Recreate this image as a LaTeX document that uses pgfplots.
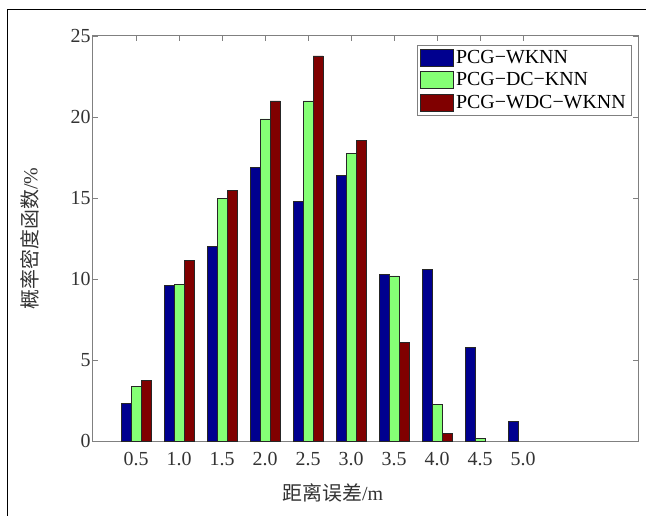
\documentclass[border=0pt]{standalone}
\usepackage{pgfplots}
\pgfplotsset{compat=1.18}
\usepackage{fontspec}
\setmainfont{Liberation Serif}
\newfontfamily\cjk{Noto Sans CJK SC}

\definecolor{cblue}{HTML}{00008F}
\definecolor{cgreen}{HTML}{85FF75}
\definecolor{cred}{HTML}{800000}
\definecolor{axgray}{HTML}{808080}

\begin{document}
\begin{tikzpicture}
\useasboundingbox (-93bp,-75bp) rectangle (553bp,441bp);
\draw[black, line width=1bp] (-85bp,-75bp) -- (-85bp,431bp) -- (553bp,431bp);
\begin{axis}[
    at={(0,0)}, anchor=south west,
    scale only axis,
    width=545bp,
    height=405bp,
    ybar=0pt,
    bar width=10bp,
    xmin=0, xmax=12.67,
    ymin=0, ymax=25,
    xtick={1,...,10},
    xticklabels={0.5,1.0,1.5,2.0,2.5,3.0,3.5,4.0,4.5,5.0},
    ytick={0,5,10,15,20,25},
    xtick pos=right,
    xticklabel pos=left,
    ytick pos=both,
    yticklabel pos=left,
    tick align=inside,
    major tick length=5bp,
    axis line style={axgray, line width=1bp},
    tick style={axgray, line width=0.8bp},
    ticklabel style={font=\fontsize{20}{23}\selectfont, text=black!80},
    xticklabel style={yshift=-8bp},
    yticklabel style={xshift=1bp},
    /pgf/number format/assume math mode=true,
    xlabel={{\cjk 距离误差}/m},
    ylabel={{\cjk 概率密度函数}/\%},
    label style={font=\fontsize{20}{23}\selectfont, text=black!80},
    xlabel style={at={(axis description cs:0.44,-0.128)}, anchor=center},
    ylabel style={at={(axis description cs:-0.116,0.5)}, anchor=center},
    legend style={at={(0.987,0.978)}, anchor=north east, draw=axgray,
        font=\fontsize{20}{23}\selectfont, inner sep=3bp, row sep=4bp,
        cells={anchor=west}},
    legend image code/.code={\draw[#1] (0bp,-8.5bp) rectangle (33bp,8.5bp);},
    every axis plot/.append style={draw=black!85, line width=0.7bp},
]
\addplot[fill=cblue] coordinates {(1,2.33) (2,9.61) (3,12.02) (4,16.90) (5,14.77) (6,16.38) (7,10.27) (8,10.60) (9,5.76) (10,1.19)};
\addplot[fill=cgreen] coordinates {(1,3.38) (2,9.67) (3,14.98) (4,19.88) (5,20.99) (6,17.76) (7,10.19) (8,2.28) (9,0.14)};
\addplot[fill=cred] coordinates {(1,3.75) (2,11.17) (3,15.47) (4,20.99) (5,23.77) (6,18.56) (7,6.07) (8,0.45)};
\legend{PCG−WKNN,PCG−DC−KNN,PCG−WDC−WKNN}
\end{axis}
\end{tikzpicture}
\end{document}
